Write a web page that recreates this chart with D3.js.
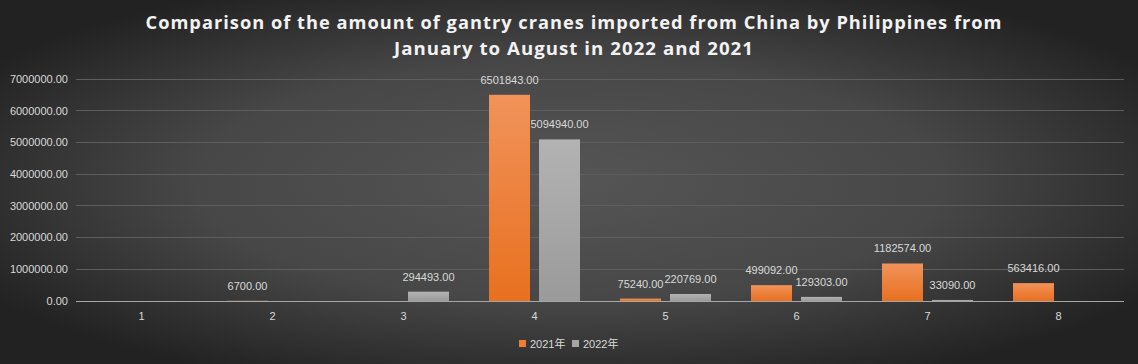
<!DOCTYPE html>
<html><head><meta charset="utf-8">
<script src="https://cdn.jsdelivr.net/npm/d3@7"></script>
<style>html,body{margin:0;padding:0;background:#333;}svg{display:block;}</style>
</head><body>
<script>
const categories = ["1","2","3","4","5","6","7","8"];
const series2021 = [null, 6700, null, 6501843, 75240, 499092, 1182574, 563416];
const series2022 = [null, null, 294493, 5094940, 220769, 129303, 33090, null];
const seriesNames = ["2021年","2022年"];
const yTicks = [0,1000000,2000000,3000000,4000000,5000000,6000000,7000000];
const titleLines = ["Comparison of the amount of gantry cranes imported from China by Philippines from","January to August in 2022 and 2021"];

const W=1138,H=364;
const svg=d3.select("body").append("svg").attr("width",W).attr("height",H);
const defs=svg.append("defs");
const bg=defs.append("radialGradient").attr("id","bg").attr("cx","50%").attr("cy","50%").attr("r","60%");
bg.append("stop").attr("offset","0%").attr("stop-color","#555555");
bg.append("stop").attr("offset","55%").attr("stop-color","#474747");
bg.append("stop").attr("offset","100%").attr("stop-color","#222222");
const gO=defs.append("linearGradient").attr("id","gO").attr("x1",0).attr("y1",0).attr("x2",0).attr("y2",1);
gO.append("stop").attr("offset","0%").attr("stop-color","#f1935a");
gO.append("stop").attr("offset","100%").attr("stop-color","#e8701f");
const gG=defs.append("linearGradient").attr("id","gG").attr("x1",0).attr("y1",0).attr("x2",0).attr("y2",1);
gG.append("stop").attr("offset","0%").attr("stop-color","#b3b3b3");
gG.append("stop").attr("offset","100%").attr("stop-color","#9a9a9a");
const fills=["url(#gO)","url(#gG)"];
const legendColors=["#ed7d31","#a5a5a5"];

svg.append("rect").attr("width",W).attr("height",H).attr("fill","url(#bg)");

const x0=d3.scaleBand().domain(categories).range([76,1124]).paddingInner(0).paddingOuter(0);
const y=d3.scaleLinear().domain([0,7000000]).range([301,79]);
const barW=41, gap=9;

// gridlines
svg.append("g").selectAll("line").data(yTicks.filter(d=>d>0)).join("line")
 .attr("x1",76).attr("x2",1124).attr("y1",d=>y(d)).attr("y2",d=>y(d))
 .attr("stroke","#5e5e5e").attr("stroke-width",1).attr("shape-rendering","crispEdges");

// y labels
svg.append("g").selectAll("text").data(yTicks).join("text")
 .attr("x",68).attr("y",d=>y(d)).attr("dy","0.35em").attr("text-anchor","end")
 .attr("font-family","Liberation Sans, Arial, sans-serif").attr("font-size",11).attr("fill","#d9d9d9")
 .text(d=>d.toFixed(2));

const data=[series2021,series2022];
data.forEach((s,si)=>{
  const pts=categories.map((c,i)=>({c,v:s[i]})).filter(d=>d.v!=null);
  const xpos=d=>x0(d.c)+x0.bandwidth()/2 + (si===0? -gap/2-barW : gap/2);
  svg.append("g").selectAll("rect").data(pts).join("rect")
   .attr("x",xpos).attr("width",barW)
   .attr("y",d=>y(d.v)).attr("height",d=>Math.max(1,y(0)-y(d.v)))
   .attr("fill",fills[si]);
  svg.append("g").selectAll("text").data(pts).join("text")
   .attr("x",d=>xpos(d)+barW/2).attr("y",d=>y(d.v)-11).attr("text-anchor","middle")
   .attr("font-family","Liberation Sans, Arial, sans-serif").attr("font-size",11).attr("fill","#d9d9d9")
   .text(d=>d.v.toFixed(2));
});

// axis line
svg.append("line").attr("x1",76).attr("x2",1124).attr("y1",301).attr("y2",301)
 .attr("stroke","#a6a6a6").attr("stroke-width",1).attr("shape-rendering","crispEdges");

// x labels
svg.append("g").selectAll("text").data(categories).join("text")
 .attr("x",d=>x0(d)+x0.bandwidth()/2).attr("y",320).attr("text-anchor","middle")
 .attr("font-family","Liberation Sans, Arial, sans-serif").attr("font-size",11).attr("fill","#d9d9d9")
 .text(d=>d);

// title
svg.append("g").selectAll("text").data(titleLines).join("text")
 .attr("x",W/2+5).attr("y",(d,i)=>29+i*26).attr("text-anchor","middle")
 .attr("font-family","Open Sans, sans-serif").attr("font-weight","bold").attr("font-size",18)
 .attr("letter-spacing","1px").attr("fill","#f2f2f2")
 .attr("textLength",(d,i)=>i===0?857:360).attr("lengthAdjust","spacingAndGlyphs")
 .text(d=>d);

// legend
const lx=[519,572];
const lg=svg.append("g").selectAll("g").data(seriesNames).join("g");
lg.append("rect").attr("x",(d,i)=>lx[i]).attr("y",340).attr("width",7).attr("height",7).attr("fill",(d,i)=>legendColors[i]);
lg.append("text").attr("x",(d,i)=>lx[i]+11).attr("y",344).attr("dy","0.35em")
 .attr("font-family","Liberation Sans, Noto Sans CJK SC, sans-serif").attr("font-size",11).attr("fill","#d9d9d9")
 .text(d=>d);
</script>
</body></html>
